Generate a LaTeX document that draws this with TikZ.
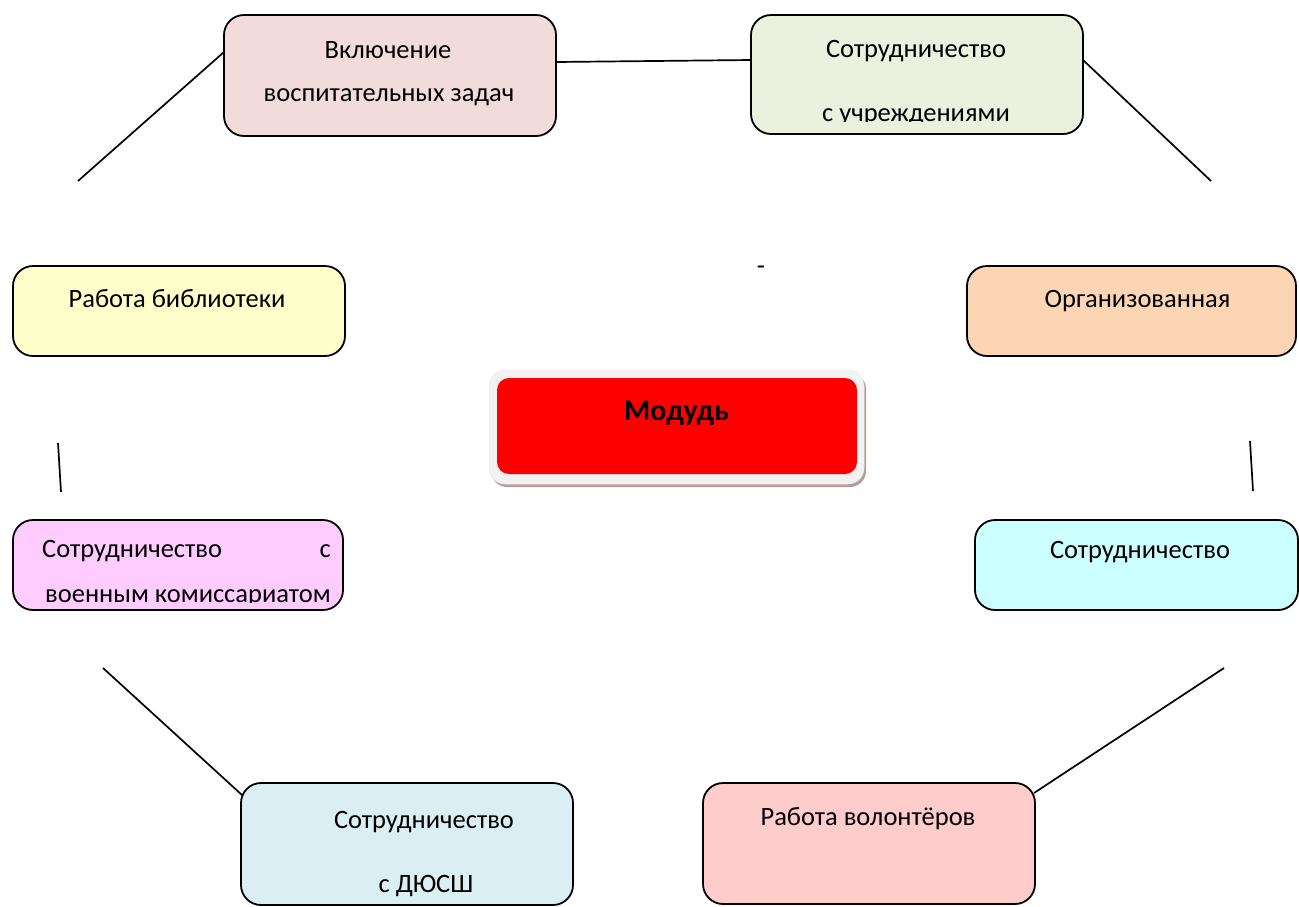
\documentclass[tikz,border=0pt]{standalone}
\usepackage{fontspec}
\setmainfont{Carlito}
\definecolor{cA}{HTML}{F2DCDB}
\definecolor{cB}{HTML}{EBF1DE}
\definecolor{cC}{HTML}{FFFFCC}
\definecolor{cD}{HTML}{FCD5B4}
\definecolor{cF}{HTML}{FFCCFF}
\definecolor{cG}{HTML}{CCFFFF}
\definecolor{cH}{HTML}{DAEEF3}
\definecolor{cI}{HTML}{FFCCCC}
\definecolor{frameg}{HTML}{F2F2F2}
\definecolor{shadowc}{HTML}{B89C9C}
\tikzset{
  boxst/.style={draw=black, line width=1.8pt, rounded corners=20pt, inner sep=0pt, outer sep=0pt},
  txt/.style={anchor=base, inner sep=0pt, font=\fontsize{26.5}{30}\selectfont},
  conn/.style={draw=black, line width=1.7pt},
}
\begin{document}
\begin{tikzpicture}[x=1pt, y=-1pt]
\useasboundingbox (0,0) rectangle (1299,906);
% boxes
\node[boxst, fill=cA, minimum width=332pt, minimum height=121pt] (b1) at (390,75.5) {};
\node[boxst, fill=cB, minimum width=332pt, minimum height=119pt] (b2) at (917,74.5) {};
\node[boxst, fill=cC, minimum width=332pt, minimum height=90pt] (b3) at (179,311) {};
\node[boxst, fill=cD, minimum width=329pt, minimum height=90pt] (b4) at (1131.5,311) {};
\node[boxst, fill=cF, minimum width=330pt, minimum height=90pt] (b6) at (178,565) {};
\node[boxst, fill=cG, minimum width=323pt, minimum height=90pt] (b7) at (1136.5,565) {};
\node[boxst, fill=cH, minimum width=332pt, minimum height=122pt] (b8) at (407,844) {};
\node[boxst, fill=cI, minimum width=332pt, minimum height=121pt] (b9) at (869,843.5) {};
% central box
\node[fill=shadowc, rounded corners=16pt, minimum width=375pt, minimum height=114pt, inner sep=0pt] (b5s) at (678.5,430) {};
\node[fill=frameg, draw=white!85!gray, line width=0.5pt, rounded corners=16pt, minimum width=375pt, minimum height=114pt, inner sep=0pt] (b5o) at (676.5,427) {};
\node[fill=red, rounded corners=12pt, minimum width=360pt, minimum height=96pt, inner sep=0pt] (b5) at (677,426) {};
\node[anchor=base, inner sep=0pt, font=\fontsize{30}{34}\selectfont\bfseries] (t5) at (676.5,420) {Модудь};
% texts
\node[txt] (t1a) at (388,58) {Включение};
\node[txt] (t1b) at (389,101) {воспитательных задач};
\node[txt] (t2a) at (916,57) {Сотрудничество};
\begin{scope}
\clip (760,60) rectangle (1075,121.5);
\node[txt] (t2b) at (916,121) {с учреждениями};
\end{scope}
\node[txt] (t3) at (177,307) {Работа библиотеки};
\node[txt] (t4) at (1137.5,307) {Организованная};
\node[txt, anchor=base west] (t6a) at (42,557) {Сотрудничество};
\node[txt, anchor=base east] (t6b) at (331,557) {с};
\begin{scope}
\clip (20,565) rectangle (340,602.5);
\node[txt] (t6c) at (188,602) {военным комиссариатом};
\end{scope}
\node[txt] (t7) at (1140,558) {Сотрудничество};
\node[txt] (t8a) at (424,828) {Сотрудничество};
\node[txt] (t8b) at (426,892) {с ДЮСШ};
\node[txt] (t9) at (868,825) {Работа волонтёров};
\node[txt] (dash) at (761,274) {-};
% free ends
\coordinate (p1) at (78,181);
\coordinate (p2) at (1211,181);
\coordinate (p3a) at (58,443);
\coordinate (p3b) at (61,492);
\coordinate (p4a) at (1250,441);
\coordinate (p4b) at (1253,491);
\coordinate (p5) at (103,668);
\coordinate (p6) at (1224,668);
% connectors
\draw[conn] ([yshift=23.5pt]b1.west) -- (p1);
\draw[conn] ([yshift=13.5pt]b1.east) -- ([yshift=14.5pt]b2.west);
\draw[conn] ([yshift=14.5pt]b2.east) -- (p2);
\draw[conn] (p3a) -- (p3b);
\draw[conn] (p4a) -- (p4b);
\draw[conn] (p5) -- ([xshift=1pt,yshift=-12pt]b8.north west);
\draw[conn] (p6) -- ([xshift=-1pt,yshift=-10pt]b9.north east);
\end{tikzpicture}
\end{document}
